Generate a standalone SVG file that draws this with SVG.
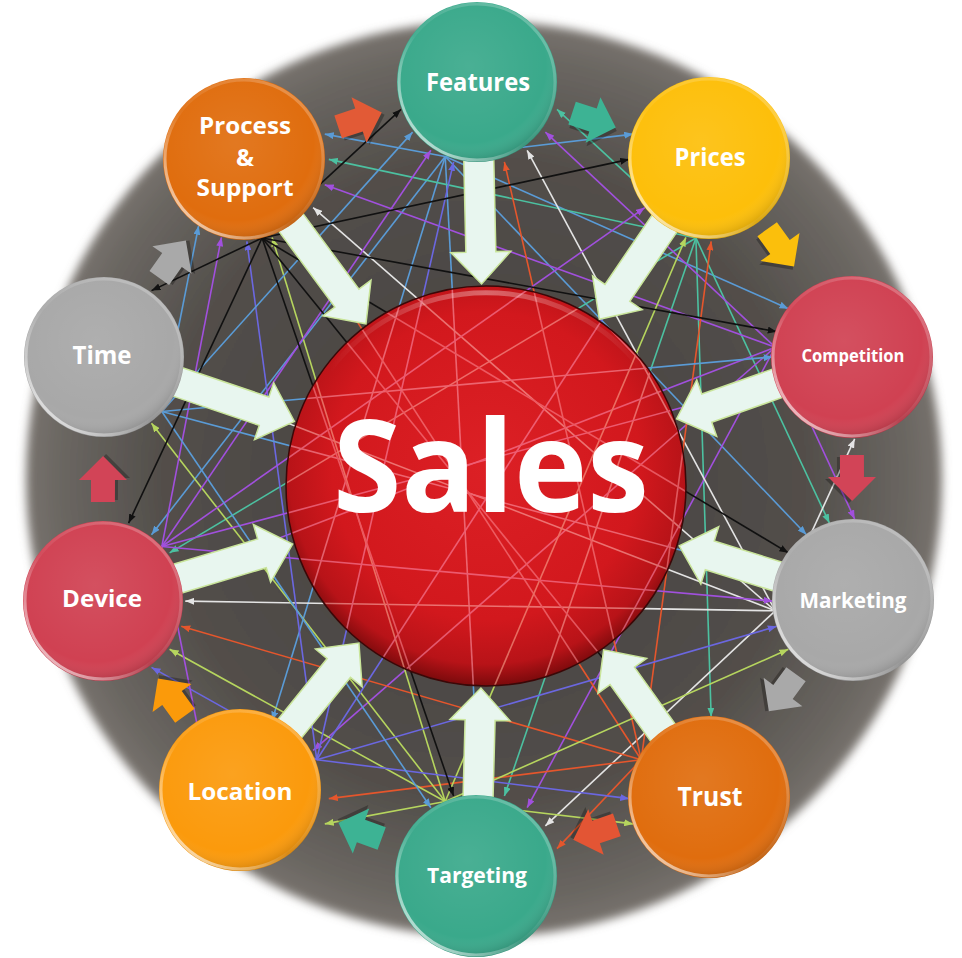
<svg xmlns="http://www.w3.org/2000/svg" xmlns:xlink="http://www.w3.org/1999/xlink" width="962" height="958" viewBox="0 0 962 958">
<style>
.ln{fill:none;stroke-width:1.6}
.cb{stroke:#5a9bd6;marker-end:url(#mb)}
.ct{stroke:#4cc1a1;marker-end:url(#mt)}
.cp{stroke:#a150dd;marker-end:url(#mp)}
.cw{stroke:#e4e4e4;marker-end:url(#mw)}
.co{stroke:#e5562c;marker-end:url(#mo)}
.cy{stroke:#b6d55e;marker-end:url(#my)}
.cv{stroke:#6b67e0;marker-end:url(#mv)}
.ck{stroke:#111111;marker-end:url(#mk)}
.big{fill:#e8f6ef;stroke:#c9e59a;stroke-width:1.5}
.lbl{fill:#ffffff;font-family:"Open Sans","Liberation Sans",sans-serif;font-weight:700;text-anchor:middle}
.rim{fill:none;stroke:url(#rimg);stroke-width:3}
.gloss{fill:url(#shade)}
.sh{fill:#000;opacity:0.28}
</style>
<defs>
<radialGradient id="diskg" cx="0.5" cy="0.5" r="0.5">
<stop offset="0" stop-color="#45413d"/>
<stop offset="0.7" stop-color="#524e4a"/>
<stop offset="0.93" stop-color="#6b6762"/>
<stop offset="1" stop-color="#78736e"/>
</radialGradient>
<filter id="blur" x="-5%" y="-5%" width="110%" height="110%"><feGaussianBlur stdDeviation="5"/></filter>
<filter id="tint" filterUnits="userSpaceOnUse" x="0" y="0" width="962" height="958">
<feColorMatrix type="matrix" values="0 0 0 0 1  0 0.3 0 0 0.25  0 0 0.2 0 0.3  0 0 0 0.55 0"/>
</filter>
<radialGradient id="sphg" cx="0.5" cy="0.45" r="0.55">
<stop offset="0" stop-color="#dc2025"/>
<stop offset="0.7" stop-color="#d2181d"/>
<stop offset="0.9" stop-color="#b81318"/>
<stop offset="1" stop-color="#7a0a0c"/>
</radialGradient>
<linearGradient id="arcg" x1="0" y1="0" x2="1" y2="0">
<stop offset="0" stop-color="#ffffff" stop-opacity="0"/>
<stop offset="0.5" stop-color="#ffffff" stop-opacity="0.35"/>
<stop offset="1" stop-color="#ffffff" stop-opacity="0"/>
</linearGradient>
<radialGradient id="shade" cx="0.45" cy="0.4" r="0.6">
<stop offset="0" stop-color="#ffffff" stop-opacity="0.08"/>
<stop offset="0.8" stop-color="#ffffff" stop-opacity="0"/>
<stop offset="1" stop-color="#000000" stop-opacity="0.14"/>
</radialGradient>
<linearGradient id="rimg" x1="0" y1="1" x2="1" y2="0">
<stop offset="0" stop-color="#ffffff" stop-opacity="0.85"/>
<stop offset="0.45" stop-color="#ffffff" stop-opacity="0.05"/>
<stop offset="1" stop-color="#ffffff" stop-opacity="0.3"/>
</linearGradient>
<clipPath id="sphclip"><circle cx="486" cy="486" r="199"/></clipPath>
<marker id="mb" viewBox="0 0 9 7" refX="9" refY="3.5" markerWidth="9" markerHeight="7" markerUnits="userSpaceOnUse" orient="auto"><path d="M0,0 L9,3.5 L0,7 z" fill="#5a9bd6"/></marker>
<marker id="mt" viewBox="0 0 9 7" refX="9" refY="3.5" markerWidth="9" markerHeight="7" markerUnits="userSpaceOnUse" orient="auto"><path d="M0,0 L9,3.5 L0,7 z" fill="#4cc1a1"/></marker>
<marker id="mp" viewBox="0 0 9 7" refX="9" refY="3.5" markerWidth="9" markerHeight="7" markerUnits="userSpaceOnUse" orient="auto"><path d="M0,0 L9,3.5 L0,7 z" fill="#a150dd"/></marker>
<marker id="mw" viewBox="0 0 9 7" refX="9" refY="3.5" markerWidth="9" markerHeight="7" markerUnits="userSpaceOnUse" orient="auto"><path d="M0,0 L9,3.5 L0,7 z" fill="#e4e4e4"/></marker>
<marker id="mo" viewBox="0 0 9 7" refX="9" refY="3.5" markerWidth="9" markerHeight="7" markerUnits="userSpaceOnUse" orient="auto"><path d="M0,0 L9,3.5 L0,7 z" fill="#e5562c"/></marker>
<marker id="my" viewBox="0 0 9 7" refX="9" refY="3.5" markerWidth="9" markerHeight="7" markerUnits="userSpaceOnUse" orient="auto"><path d="M0,0 L9,3.5 L0,7 z" fill="#b6d55e"/></marker>
<marker id="mv" viewBox="0 0 9 7" refX="9" refY="3.5" markerWidth="9" markerHeight="7" markerUnits="userSpaceOnUse" orient="auto"><path d="M0,0 L9,3.5 L0,7 z" fill="#6b67e0"/></marker>
<marker id="mk" viewBox="0 0 9 7" refX="9" refY="3.5" markerWidth="9" markerHeight="7" markerUnits="userSpaceOnUse" orient="auto"><path d="M0,0 L9,3.5 L0,7 z" fill="#111111"/></marker>
<polygon id="smallArrow" points="-22,-12 0,-12 0,-24 24,0 0,24 0,12 -22,12"/>
</defs>

<rect x="0" y="0" width="962" height="958" fill="#ffffff"/>
<circle cx="484" cy="479" r="458" fill="url(#diskg)" filter="url(#blur)"/>

<g id="connectors">
<g transform="rotate(0 479 479)">
<path class="ln cb" d="M445.2,156.5 L633.2,134.1"/>
<path class="ln cb" d="M445.2,156.5 L788.4,308.7"/>
<path class="ln cb" d="M445.2,156.5 L806.5,534.8"/>
<path class="ln cb" d="M445.2,156.5 L479,792"/>
<path class="ln cb" d="M445.2,156.5 L272.1,720.6"/>
<path class="ln cb" d="M445.2,156.5 L151.5,534.8"/>
<path class="ln cb" d="M445.2,156.5 L324.8,134.1"/>
</g>
<g transform="rotate(36 479 479)">
<path class="ln ct" d="M512.8,156.5 L788.4,308.7"/>
<path class="ln ct" d="M512.8,156.5 L806.5,534.8"/>
<path class="ln ct" d="M512.8,156.5 L685.9,720.6"/>
<path class="ln ct" d="M512.8,156.5 L272.1,720.6"/>
<path class="ln ct" d="M512.8,156.5 L169.6,308.7"/>
<path class="ln ct" d="M512.8,156.5 L324.8,134.1"/>
</g>
<g transform="rotate(72 479 479)">
<path class="ln cp" d="M445.2,156.5 L633.2,134.1"/>
<path class="ln cp" d="M445.2,156.5 L806.5,534.8"/>
<path class="ln cp" d="M445.2,156.5 L685.9,720.6"/>
<path class="ln cp" d="M445.2,156.5 L479,792"/>
<path class="ln cp" d="M445.2,156.5 L151.5,534.8"/>
<path class="ln cp" d="M445.2,156.5 L169.6,308.7"/>
</g>
<g transform="rotate(108 479 479)">
<path class="ln cw" d="M512.8,156.5 L788.4,308.7"/>
<path class="ln cw" d="M512.8,156.5 L685.9,720.6"/>
<path class="ln cw" d="M512.8,156.5 L479,792"/>
<path class="ln cw" d="M512.8,156.5 L272.1,720.6"/>
<path class="ln cw" d="M512.8,156.5 L151.5,534.8"/>
<path class="ln cw" d="M512.8,156.5 L324.8,134.1"/>
</g>
<g transform="rotate(144 479 479)">
<path class="ln co" d="M512.8,156.5 L633.2,134.1"/>
<path class="ln co" d="M512.8,156.5 L788.4,308.7"/>
<path class="ln co" d="M512.8,156.5 L806.5,534.8"/>
<path class="ln co" d="M512.8,156.5 L479,792"/>
<path class="ln co" d="M512.8,156.5 L272.1,720.6"/>
<path class="ln co" d="M512.8,156.5 L151.5,534.8"/>
</g>
<g transform="rotate(180 479 479)">
<path class="ln cy" d="M512.8,156.5 L633.2,134.1"/>
<path class="ln cy" d="M512.8,156.5 L788.4,308.7"/>
<path class="ln cy" d="M512.8,156.5 L806.5,534.8"/>
<path class="ln cy" d="M512.8,156.5 L685.9,720.6"/>
<path class="ln cy" d="M512.8,156.5 L272.1,720.6"/>
<path class="ln cy" d="M512.8,156.5 L169.6,308.7"/>
<path class="ln cy" d="M512.8,156.5 L324.8,134.1"/>
</g>
<g transform="rotate(216 479 479)">
<path class="ln cv" d="M445.2,156.5 L633.2,134.1"/>
<path class="ln cv" d="M445.2,156.5 L806.5,534.8"/>
<path class="ln cv" d="M445.2,156.5 L685.9,720.6"/>
<path class="ln cv" d="M445.2,156.5 L479,792"/>
<path class="ln cv" d="M445.2,156.5 L151.5,534.8"/>
<path class="ln cv" d="M445.2,156.5 L169.6,308.7"/>
</g>
<g transform="rotate(252 479 479)">
<path class="ln cp" d="M512.8,156.5 L788.4,308.7"/>
<path class="ln cp" d="M512.8,156.5 L806.5,534.8"/>
<path class="ln cp" d="M512.8,156.5 L685.9,720.6"/>
<path class="ln cp" d="M512.8,156.5 L479,792"/>
<path class="ln cp" d="M512.8,156.5 L272.1,720.6"/>
<path class="ln cp" d="M512.8,156.5 L324.8,134.1"/>
</g>
<g transform="rotate(288 479 479)">
<path class="ln cb" d="M445.2,156.5 L633.2,134.1"/>
<path class="ln cb" d="M445.2,156.5 L788.4,308.7"/>
<path class="ln cb" d="M445.2,156.5 L685.9,720.6"/>
<path class="ln cb" d="M445.2,156.5 L479,792"/>
<path class="ln cb" d="M445.2,156.5 L151.5,534.8"/>
</g>
<g transform="rotate(324 479 479)">
<path class="ln ck" d="M445.2,156.5 L633.2,134.1"/>
<path class="ln ck" d="M445.2,156.5 L788.4,308.7"/>
<path class="ln ck" d="M445.2,156.5 L806.5,534.8"/>
<path class="ln ck" d="M445.2,156.5 L685.9,720.6"/>
<path class="ln ck" d="M445.2,156.5 L479,792"/>
<path class="ln ck" d="M445.2,156.5 L272.1,720.6"/>
<path class="ln ck" d="M445.2,156.5 L169.6,308.7"/>
<path class="ln ck" d="M445.2,156.5 L324.8,134.1"/>
</g>
</g>

<g id="sales">
<circle cx="486" cy="486" r="200" fill="url(#sphg)" stroke="#3a0808" stroke-width="1.5"/>
<g clip-path="url(#sphclip)"><use xlink:href="#connectors" filter="url(#tint)"/></g>
<path d="M330,370 A196,196 0 0 1 642,370" fill="none" stroke="url(#arcg)" stroke-width="5"/>
<text class="lbl" x="491" y="512" font-size="128" textLength="316" lengthAdjust="spacingAndGlyphs">Sales</text>
</g>

<g id="flow-arrows">
<polygon class="big" transform="translate(477 82) rotate(88.7)" points="70,-15 170,-15 170,-30 202,0 170,30 170,15 70,15"/>
<polygon class="big" transform="translate(709 158) rotate(124.2)" points="70,-15 163,-15 163,-30 195,0 163,30 163,15 70,15"/>
<polygon class="big" transform="translate(852 357) rotate(160.6)" points="70,-15 154,-15 154,-30 186,0 154,30 154,15 70,15"/>
<polygon class="big" transform="translate(853 600) rotate(-162.7)" points="70,-15 150,-15 150,-30 182,0 150,30 150,15 70,15"/>
<polygon class="big" transform="translate(709 797) rotate(-125.6)" points="70,-15 149,-15 149,-30 181,0 149,30 149,15 70,15"/>
<polygon class="big" transform="translate(476 876) rotate(-88.5)" points="70,-15 156,-15 156,-30 188,0 156,30 156,15 70,15"/>
<polygon class="big" transform="translate(240 790) rotate(-51)" points="70,-15 157,-15 157,-30 189,0 157,30 157,15 70,15"/>
<polygon class="big" transform="translate(103 601) rotate(-16.7)" points="70,-15 166,-15 166,-30 198,0 166,30 166,15 70,15"/>
<polygon class="big" transform="translate(104 357) rotate(18.7)" points="70,-15 169,-15 169,-30 201,0 169,30 169,15 70,15"/>
<polygon class="big" transform="translate(244 159) rotate(53.5)" points="70,-15 173,-15 173,-30 205,0 173,30 173,15 70,15"/>
</g>

<g id="cycle-arrows">
<g transform="translate(359 120) rotate(-18.3)"><use xlink:href="#smallArrow" class="sh" transform="translate(2 3)"/><use xlink:href="#smallArrow" fill="#e25a36"/></g>
<g transform="translate(593 120) rotate(18.1)"><use xlink:href="#smallArrow" class="sh" transform="translate(2 3)"/><use xlink:href="#smallArrow" fill="#3db394"/></g>
<g transform="translate(780 247) rotate(54.3)"><use xlink:href="#smallArrow" class="sh" transform="translate(2 3)"/><use xlink:href="#smallArrow" fill="#fbbf0c"/></g>
<g transform="translate(852 477) rotate(89.8)"><use xlink:href="#smallArrow" class="sh" transform="translate(2 3)"/><use xlink:href="#smallArrow" fill="#d24457"/></g>
<g transform="translate(783 692) rotate(126.2)"><use xlink:href="#smallArrow" class="sh" transform="translate(2 3)"/><use xlink:href="#smallArrow" fill="#a9a9a9"/></g>
<g transform="translate(596 832) rotate(161.3)"><use xlink:href="#smallArrow" class="sh" transform="translate(2 3)"/><use xlink:href="#smallArrow" fill="#e35534"/></g>
<g transform="translate(361 831) rotate(-160)"><use xlink:href="#smallArrow" class="sh" transform="translate(2 3)"/><use xlink:href="#smallArrow" fill="#3db394"/></g>
<g transform="translate(172 698) rotate(-125.9)"><use xlink:href="#smallArrow" class="sh" transform="translate(2 3)"/><use xlink:href="#smallArrow" fill="#fb9a0a"/></g>
<g transform="translate(103 480) rotate(-89.8)"><use xlink:href="#smallArrow" class="sh" transform="translate(2 3)"/><use xlink:href="#smallArrow" fill="#d24457"/></g>
<g transform="translate(172 260) rotate(-54.7)"><use xlink:href="#smallArrow" class="sh" transform="translate(2 3)"/><use xlink:href="#smallArrow" fill="#a9a9a9"/></g>
</g>

<g id="node-features">
<circle cx="477" cy="82" r="80" fill="#3aa98b"/><circle class="gloss" cx="477" cy="82" r="80"/><circle class="rim" cx="477" cy="82" r="78"/>
<text class="lbl" x="478" y="91" font-size="25" textLength="104" lengthAdjust="spacingAndGlyphs">Features</text>
</g>
<g id="node-prices">
<circle cx="709" cy="158" r="81" fill="#fdbf0a"/><circle class="gloss" cx="709" cy="158" r="81"/><circle class="rim" cx="709" cy="158" r="79"/>
<text class="lbl" x="710" y="166" font-size="25" textLength="71" lengthAdjust="spacingAndGlyphs">Prices</text>
</g>
<g id="node-competition">
<circle cx="852" cy="357" r="81" fill="#d04152"/><circle class="gloss" cx="852" cy="357" r="81"/><circle class="rim" cx="852" cy="357" r="79"/>
<text class="lbl" x="853" y="362" font-size="17.5" textLength="103" lengthAdjust="spacingAndGlyphs">Competition</text>
</g>
<g id="node-marketing">
<circle cx="853" cy="600" r="81" fill="#a8a8a8"/><circle class="gloss" cx="853" cy="600" r="81"/><circle class="rim" cx="853" cy="600" r="79"/>
<text class="lbl" x="853" y="608" font-size="21" textLength="107" lengthAdjust="spacingAndGlyphs">Marketing</text>
</g>
<g id="node-trust">
<circle cx="709" cy="797" r="81" fill="#e06d0e"/><circle class="gloss" cx="709" cy="797" r="81"/><circle class="rim" cx="709" cy="797" r="79"/>
<text class="lbl" x="710" y="806" font-size="27" textLength="65" lengthAdjust="spacingAndGlyphs">Trust</text>
</g>
<g id="node-targeting">
<circle cx="476" cy="876" r="81" fill="#3aa98b"/><circle class="gloss" cx="476" cy="876" r="81"/><circle class="rim" cx="476" cy="876" r="79"/>
<text class="lbl" x="477" y="883" font-size="21" textLength="100" lengthAdjust="spacingAndGlyphs">Targeting</text>
</g>
<g id="node-location">
<circle cx="240" cy="790" r="81" fill="#fb9a0c"/><circle class="gloss" cx="240" cy="790" r="81"/><circle class="rim" cx="240" cy="790" r="79"/>
<text class="lbl" x="240" y="800" font-size="24" textLength="105" lengthAdjust="spacingAndGlyphs">Location</text>
</g>
<g id="node-device">
<circle cx="103" cy="601" r="80" fill="#d04152"/><circle class="gloss" cx="103" cy="601" r="80"/><circle class="rim" cx="103" cy="601" r="78"/>
<text class="lbl" x="102" y="607" font-size="23" textLength="80" lengthAdjust="spacingAndGlyphs">Device</text>
</g>
<g id="node-time">
<circle cx="104" cy="357" r="80" fill="#a8a8a8"/><circle class="gloss" cx="104" cy="357" r="80"/><circle class="rim" cx="104" cy="357" r="78"/>
<text class="lbl" x="102" y="364" font-size="25" textLength="59" lengthAdjust="spacingAndGlyphs">Time</text>
</g>
<g id="node-process">
<circle cx="244" cy="159" r="81" fill="#e06d0e"/><circle class="gloss" cx="244" cy="159" r="81"/><circle class="rim" cx="244" cy="159" r="79"/>
<text class="lbl" x="245" y="134" font-size="24" textLength="92" lengthAdjust="spacingAndGlyphs">Process</text>
<text class="lbl" x="245" y="166" font-size="24">&amp;</text>
<text class="lbl" x="245" y="196" font-size="24" textLength="97" lengthAdjust="spacingAndGlyphs">Support</text>
</g>
</svg>
